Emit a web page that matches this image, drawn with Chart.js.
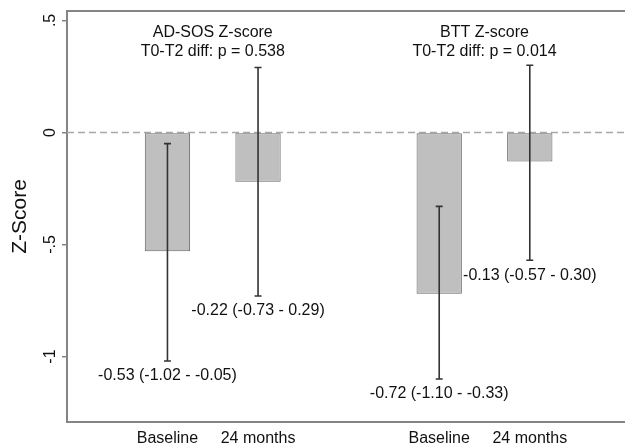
<!DOCTYPE html>
<html><head><meta charset="utf-8">
<script src="https://cdn.jsdelivr.net/npm/chart.js@4"></script>
<style>html,body{margin:0;padding:0;background:#fff}#wrap{width:625px;height:444px}</style>
</head><body><div id="wrap"><canvas id="c" width="625" height="444"></canvas></div>
<script>
// ---- data ----
const groups = ['AD-SOS Z-score', 'BTT Z-score'];
const pValues = ['0.538', '0.014'];
const timepoints = ['Baseline', '24 months'];
const means = [-0.53, -0.22, -0.72, -0.13];
const ciLow = [-1.02, -0.73, -1.10, -0.57];
const ciHigh = [-0.05, 0.29, -0.33, 0.30];
const yTickValues = [0.5, 0, -0.5, -1];
const yTickLabels = ['.5', '0', '-.5', '-1'];

// slot on the x axis: groups separated by one empty slot
const slotOf = i => Math.floor(i / timepoints.length) * (timepoints.length + 1) + (i % timepoints.length) + 1;
const categoryOf = i => timepoints[i % timepoints.length];
const slots = means.map((m, i) => slotOf(i));

const FONT = 'Liberation Sans, Arial, Helvetica, sans-serif';
const TEXT = '#111';
const AXIS = '#858585';
const fmt = v => v.toFixed(2);

const zeroLine = {
  id: 'zeroLine',
  beforeDatasetsDraw(chart) {
    const {ctx, chartArea, scales} = chart;
    const y = scales.y.getPixelForValue(0);
    ctx.save();
    ctx.strokeStyle = '#a8a8a8';
    ctx.lineWidth = 1.5;
    ctx.setLineDash([7, 4]);
    ctx.beginPath();
    ctx.moveTo(chartArea.left, y);
    ctx.lineTo(chartArea.right, y);
    ctx.stroke();
    ctx.restore();
  }
};

const errorBars = {
  id: 'errorBars',
  afterDatasetsDraw(chart) {
    const {ctx, scales} = chart;
    ctx.save();
    ctx.strokeStyle = '#333';
    ctx.lineWidth = 1.6;
    ctx.font = '16px ' + FONT;
    ctx.fillStyle = TEXT;
    ctx.textAlign = 'center';
    ctx.textBaseline = 'middle';
    means.forEach((m, i) => {
      const x = scales.x.getPixelForValue(slots[i]);
      const yl = scales.y.getPixelForValue(ciLow[i]);
      const yh = scales.y.getPixelForValue(ciHigh[i]);
      ctx.beginPath();
      ctx.moveTo(x, yl); ctx.lineTo(x, yh);
      ctx.moveTo(x - 3.5, yl); ctx.lineTo(x + 3.5, yl);
      ctx.moveTo(x - 3.5, yh); ctx.lineTo(x + 3.5, yh);
      ctx.stroke();
      ctx.fillText(fmt(m) + ' (' + fmt(ciLow[i]) + ' - ' + fmt(ciHigh[i]) + ')', x, yl + 15);
    });
    ctx.restore();
  }
};

const groupTitles = {
  id: 'groupTitles',
  afterDraw(chart) {
    const {ctx, chartArea, scales} = chart;
    ctx.save();
    ctx.font = '16px ' + FONT;
    ctx.fillStyle = TEXT;
    ctx.textAlign = 'center';
    ctx.textBaseline = 'middle';
    groups.forEach((g, gi) => {
      const first = gi * timepoints.length;
      const last = first + timepoints.length - 1;
      const x = (scales.x.getPixelForValue(slots[first]) + scales.x.getPixelForValue(slots[last])) / 2;
      ctx.fillText(g, x, chartArea.top + 22);
      ctx.fillText('T0-T2 diff: p = ' + pValues[gi], x, chartArea.top + 41);
    });
    ctx.restore();
  }
};

new Chart(document.getElementById('c'), {
  type: 'bar',
  data: {
    datasets: [{
      data: means.map((m, i) => ({x: slots[i], y: m})),
      backgroundColor: '#bfbfbf',
      borderColor: '#666',
      borderWidth: 1,
      borderSkipped: false,
      barPercentage: 1,
      categoryPercentage: 0.5
    }]
  },
  options: {
    responsive: false,
    animation: false,
    devicePixelRatio: 1,
    layout: {padding: {top: 11, right: 1, left: 0, bottom: 0}},
    plugins: {legend: {display: false}, tooltip: {enabled: false}},
    scales: {
      x: {
        type: 'linear',
        offset: false,
        min: -0.109,
        max: 6.04,
        afterBuildTicks: s => { s.ticks = slots.map(v => ({value: v})); },
        afterFit: s => { s.height = 22; s.paddingLeft = 0; s.paddingRight = 0; },
        ticks: {
          autoSkip: false, maxRotation: 0, minRotation: 0, padding: 7,
          font: {family: FONT, size: 16}, color: TEXT,
          callback: v => { const i = slots.indexOf(v); return i >= 0 ? categoryOf(i) : ''; }
        },
        grid: {display: false, drawTicks: false},
        border: {display: true, color: AXIS, width: 2}
      },
      x2: {
        type: 'linear', position: 'top', min: 0, max: 1, offset: false,
        afterFit: s => { s.height = 0; },
        ticks: {display: false},
        grid: {display: false, drawTicks: false},
        border: {display: true, color: AXIS, width: 2}
      },
      y: {
        min: -1.292,
        max: 0.542,
        afterBuildTicks: s => { s.ticks = yTickValues.map(v => ({value: v})); },
        afterFit: s => { s.width = 67; s.paddingTop = 0; s.paddingBottom = 0; },
        ticks: {
          minRotation: 90, maxRotation: 90, crossAlign: 'center', padding: 2,
          font: {family: FONT, size: 16}, color: TEXT,
          callback: v => { const i = yTickValues.indexOf(v); return i >= 0 ? yTickLabels[i] : ''; }
        },
        grid: {display: true, drawOnChartArea: false, drawTicks: true, tickLength: 5, color: AXIS, lineWidth: 1.5},
        border: {display: true, color: AXIS, width: 2},
        title: {display: true, text: 'Z-Score', font: {family: FONT, size: 21}, color: TEXT, padding: {top: 8, bottom: 0}}
      }
    }
  },
  plugins: [zeroLine, errorBars, groupTitles]
});
</script>
</body></html>
